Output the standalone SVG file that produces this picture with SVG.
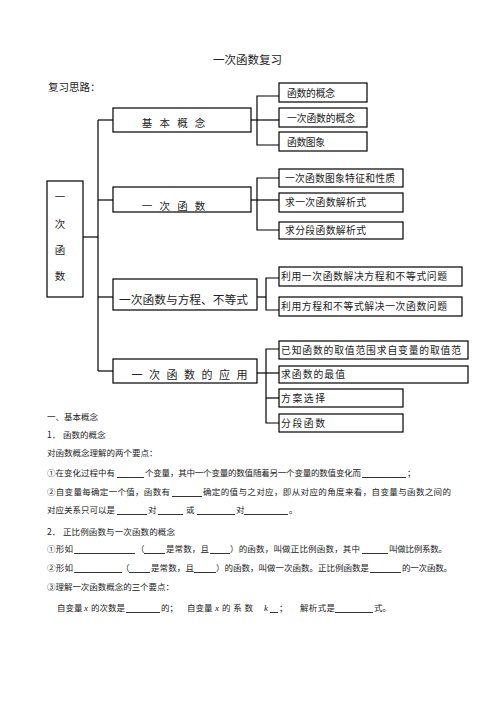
<svg xmlns="http://www.w3.org/2000/svg" width="496" height="702" viewBox="0 0 496 702">
<style>
.bx{fill:#fff;stroke:#000;stroke-width:1.2}
.ln{fill:none;stroke:#000;stroke-width:1.2}
.ul{stroke:#000;stroke-width:0.8}
text{font-family:"Noto Sans CJK SC","Noto Sans CJK JP",sans-serif;fill:#222}
.b{font-size:10.5px}
.s{font-size:9.8px}
.p{font-size:8.5px}
.v{font-family:"Liberation Serif",serif;font-style:italic;font-size:9px}
</style>
<rect width="496" height="702" fill="#fff"/>
<text x="213" y="64" style="font-size:11.5px">一次函数复习</text>
<text x="48" y="90.5" style="font-size:10.5px">复习思路：</text>

<g id="connectors">
<polyline class="ln" points="83,237 98,237"/>
<line class="ln" x1="98" y1="120" x2="98" y2="371"/>
<line class="ln" x1="98" y1="120" x2="113" y2="120"/>
<line class="ln" x1="98" y1="200" x2="113" y2="200"/>
<line class="ln" x1="98" y1="297" x2="113" y2="297"/>
<line class="ln" x1="98" y1="371" x2="113" y2="371"/>
<line class="ln" x1="251" y1="120" x2="279" y2="120"/>
<polyline class="ln" points="279,96 257,96 257,145 279,145"/>
<line class="ln" x1="251" y1="200" x2="279" y2="200"/>
<polyline class="ln" points="279,178 257,178 257,230 279,230"/>
<line class="ln" x1="257" y1="297" x2="266" y2="297"/>
<polyline class="ln" points="279,278 266,278 266,310 279,310"/>
<line class="ln" x1="257" y1="373" x2="279" y2="373"/>
<polyline class="ln" points="279,349 266,349 266,423 279,423"/>
<line class="ln" x1="266" y1="398" x2="279" y2="398"/>
</g>

<g id="root">
<rect class="bx" x="47" y="181" width="36" height="116"/>
<text class="b" x="60" y="201" text-anchor="middle">一</text>
<text class="b" x="60" y="228" text-anchor="middle">次</text>
<text class="b" x="60" y="254" text-anchor="middle">函</text>
<text class="b" x="60" y="280" text-anchor="middle">数</text>
</g>

<g id="n1">
<rect class="bx" x="113" y="108" width="138" height="24"/>
<text class="b" x="141.75" y="126.5" letter-spacing="7.2">基本概念</text>
</g>
<g id="n2">
<rect class="bx" x="113" y="187" width="138" height="25"/>
<text class="b" x="141.75" y="210" letter-spacing="7.2">一次函数</text>
</g>
<g id="n3">
<rect class="bx" x="113" y="279" width="144" height="31"/>
<text x="119" y="303.5" style="font-size:11.5px" textLength="129" lengthAdjust="spacingAndGlyphs">一次函数与方程、不等式</text>
</g>
<g id="n4">
<rect class="bx" x="113" y="359" width="144" height="24"/>
<text x="131.5" y="379" style="font-size:11px" letter-spacing="6.5">一次函数的应用</text>
</g>

<g id="n1a"><rect class="bx" x="279" y="83" width="88" height="19"/><text class="s" x="287" y="96.5" textLength="48">函数的概念</text></g>
<g id="n1b"><rect class="bx" x="279" y="108" width="88" height="19"/><text class="s" x="287" y="121.5" textLength="68">一次函数的概念</text></g>
<g id="n1c"><rect class="bx" x="279" y="132" width="88" height="19"/><text class="s" x="287" y="145.5" textLength="38">函数图象</text></g>

<g id="n2a"><rect class="bx" x="279" y="169" width="124" height="18"/><text class="s" x="285" y="181.5" textLength="110">一次函数图象特征和性质</text></g>
<g id="n2b"><rect class="bx" x="279" y="193" width="124" height="19"/><text class="s" x="285" y="206" textLength="81">求一次函数解析式</text></g>
<g id="n2c"><rect class="bx" x="279" y="222" width="124" height="17"/><text class="s" x="285" y="234" textLength="81">求分段函数解析式</text></g>

<g id="n3a"><rect class="bx" x="279" y="267" width="183" height="19"/><text class="s" x="281" y="280" textLength="166">利用一次函数解决方程和不等式问题</text></g>
<g id="n3b"><rect class="bx" x="279" y="297" width="183" height="19"/><text class="s" x="281" y="310" textLength="166">利用方程和不等式解决一次函数问题</text></g>

<g id="n4a"><rect class="bx" x="279" y="341" width="189" height="18"/><text class="s" x="281" y="353.5" textLength="180">已知函数的取值范围求自变量的取值范</text></g>
<g id="n4b"><rect class="bx" x="279" y="366" width="189" height="17"/><text class="s" x="281" y="378" textLength="64">求函数的最值</text></g>
<g id="n4c"><rect class="bx" x="279" y="389" width="124" height="18"/><text class="s" x="281" y="401.5" textLength="44">方案选择</text></g>
<g id="n4d"><rect class="bx" x="279" y="414" width="124" height="18"/><text class="s" x="281" y="426.5" textLength="44">分段函数</text></g>

<g id="body">
<text class="p" x="47" y="420">一、基本概念</text>
<text class="p" x="47" y="437.5">1．</text>
<text class="p" x="63" y="437.5">函数的概念</text>
<text class="p" x="47" y="456">对函数概念理解的两个要点：</text>

<text class="p" x="47" y="476" textLength="68">①在变化过程中有</text>
<line class="ul" x1="117" y1="477.5" x2="144" y2="477.5"/>
<text class="p" x="145" y="476" textLength="216">个变量，其中一个变量的数值随着另一个变量的数值变化而</text>
<line class="ul" x1="362" y1="477.5" x2="406" y2="477.5"/>
<text class="p" x="407" y="476">；</text>

<text class="p" x="47" y="495" textLength="123">②自变量每确定一个值，函数有</text>
<line class="ul" x1="172" y1="496.5" x2="202" y2="496.5"/>
<text class="p" x="203" y="495" textLength="248">确定的值与之对应，即从对应的角度来看，自变量与函数之间的</text>

<text class="p" x="47" y="513" textLength="68">对应关系只可以是</text>
<line class="ul" x1="117" y1="514.5" x2="147" y2="514.5"/>
<text class="p" x="148" y="513">对</text>
<line class="ul" x1="158" y1="514.5" x2="183" y2="514.5"/>
<text class="p" x="186" y="513">或</text>
<line class="ul" x1="197" y1="514.5" x2="235" y2="514.5"/>
<text class="p" x="236" y="513">对</text>
<line class="ul" x1="244" y1="514.5" x2="288" y2="514.5"/>
<text class="p" x="289" y="513">。</text>

<text class="p" x="47" y="535">2．</text>
<text class="p" x="63" y="535" textLength="112">正比例函数与一次函数的概念</text>

<text class="p" x="47" y="552" textLength="26">①形如</text>
<line class="ul" x1="74" y1="553.5" x2="135" y2="553.5"/>
<text class="p" x="136" y="552">（</text>
<line class="ul" x1="144" y1="553.5" x2="165" y2="553.5"/>
<text class="p" x="166" y="552" textLength="43">是常数，且</text>
<line class="ul" x1="210" y1="553.5" x2="230" y2="553.5"/>
<text class="p" x="230" y="552" textLength="130">）的函数，叫做正比例函数，其中</text>
<line class="ul" x1="362" y1="553.5" x2="388" y2="553.5"/>
<text class="p" x="389" y="552" textLength="58">叫做比例系数。</text>

<text class="p" x="47" y="571" textLength="26">②形如</text>
<line class="ul" x1="74" y1="572.5" x2="122" y2="572.5"/>
<text class="p" x="121" y="571">（</text>
<line class="ul" x1="129" y1="572.5" x2="150" y2="572.5"/>
<text class="p" x="151" y="571" textLength="43">是常数，且</text>
<line class="ul" x1="194" y1="572.5" x2="216" y2="572.5"/>
<text class="p" x="216" y="571" textLength="153">）的函数，叫做一次函数。正比例函数是</text>
<line class="ul" x1="370" y1="572.5" x2="401" y2="572.5"/>
<text class="p" x="402" y="571" textLength="50">的一次函数。</text>

<text class="p" x="47" y="590" textLength="127">③理解一次函数概念的三个要点：</text>

<text class="p" x="57" y="611">自变量</text>
<text class="v" x="84" y="611">x</text>
<text class="p" x="91" y="611">的次数是</text>
<line class="ul" x1="126" y1="612.5" x2="160" y2="612.5"/>
<text class="p" x="161" y="611">的；</text>
<text class="p" x="187" y="611">自变量</text>
<text class="v" x="215" y="611">x</text>
<text class="p" x="222" y="611" textLength="31">的系数</text>
<text class="v" x="264" y="611">k</text>
<line class="ul" x1="270" y1="612.5" x2="278" y2="612.5"/>
<text class="p" x="279" y="611">；</text>
<text class="p" x="300" y="611" textLength="35">解析式是</text>
<line class="ul" x1="335" y1="612.5" x2="373" y2="612.5"/>
<text class="p" x="374" y="611">式。</text>
</g>
</svg>
